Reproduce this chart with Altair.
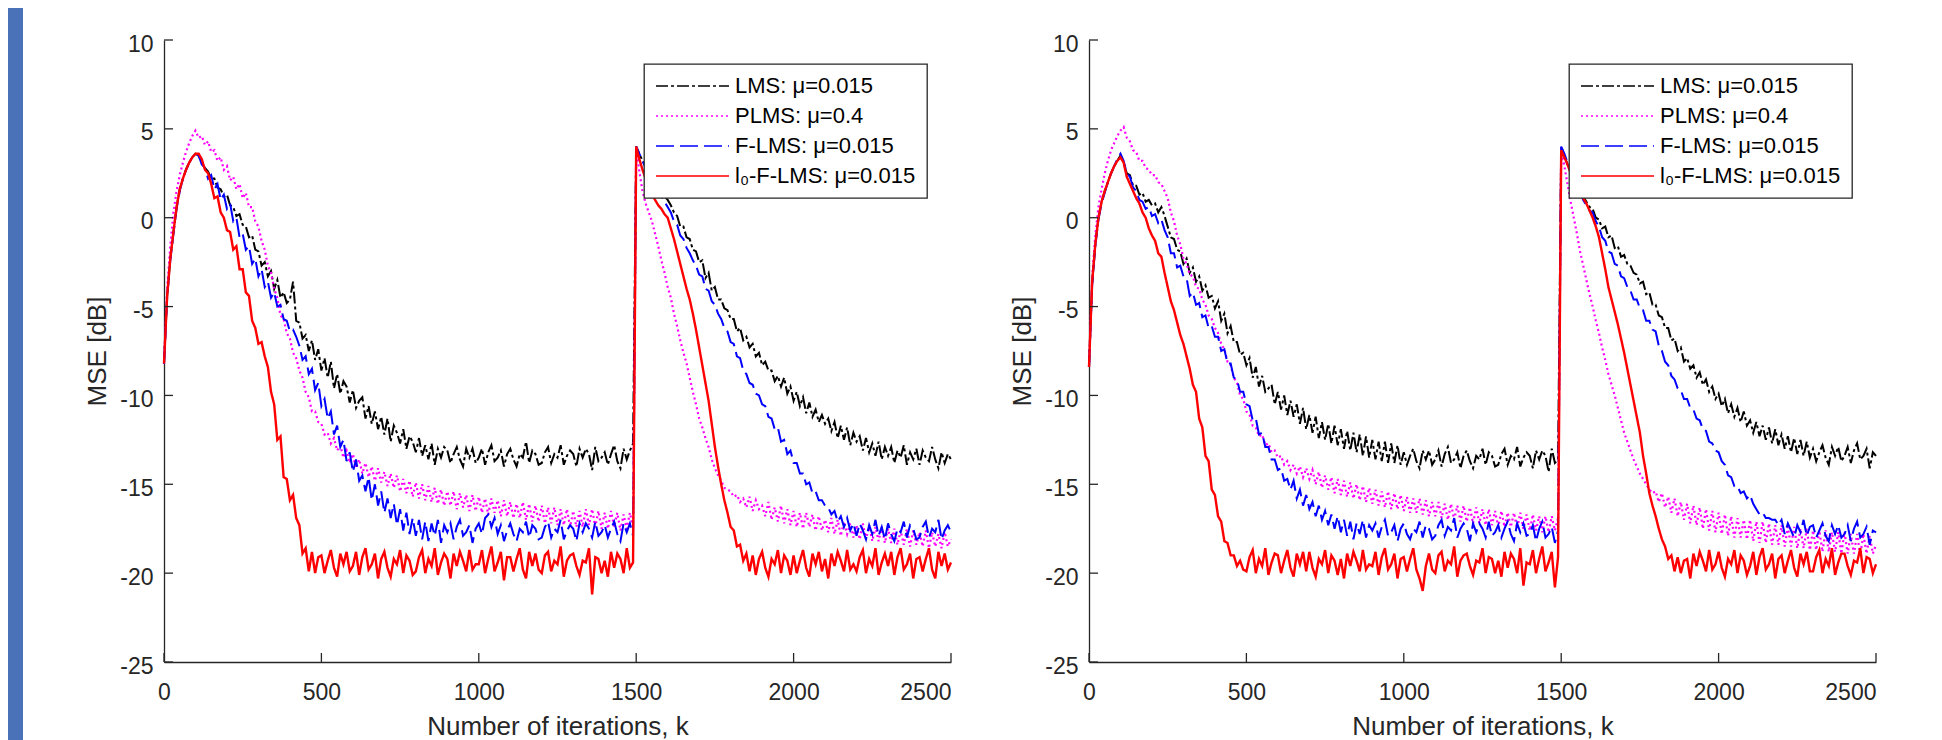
import altair as alt
import pandas as pd

# iteration index (every 10th iteration)
K = list(range(0, 2501, 10))

SERIES = ["LMS: μ=0.015", "PLMS: μ=0.4", "F-LMS: μ=0.015", "l₀-F-LMS: μ=0.015"]
COLORS = ["#000000", "#FF00FF", "#0000FF", "#FF0000"]
DASHES = [[12, 3, 3, 3], [2, 3], [18, 6], [1, 0]]
WIDTHS = [2.0, 2.2, 2.0, 2.4]

X_TICKS = [0, 500, 1000, 1500, 2000, 2500]
Y_TICKS = [-25, -20, -15, -10, -5, 0, 5, 10]

# ---------------- left panel ----------------
LEFT_LMS = [
    -8.2, -4.4, -2.3, -0.8, 0.6, 1.6, 2.2, 2.7, 3.1, 3.4,
    3.6, 3.5, 3.1, 2.8, 2.6, 2.2, 2.2, 1.7, 1.6, 1.2,
    1.3, 0.7, 0.6, 0.1, 0.2, -0.4, -0.5, -1.1, -1.0, -1.8,
    -1.9, -2.7, -2.5, -3.3, -3.0, -4.0, -3.5, -4.5, -4.2, -4.8,
    -4.6, -3.6, -5.8, -5.9, -6.8, -6.6, -7.5, -6.9, -8.0, -7.4,
    -8.6, -7.9, -9.0, -8.1, -9.6, -8.8, -9.9, -9.2, -9.5, -10.4,
    -9.7, -10.7, -10.3, -10.1, -11.3, -10.6, -11.6, -10.9, -11.9, -11.2,
    -12.2, -11.3, -12.6, -11.7, -12.1, -12.7, -11.9, -13.0, -12.3, -12.6,
    -13.2, -12.4, -13.4, -12.8, -13.6, -12.7, -13.9, -13.0, -13.5, -12.9,
    -13.1, -13.8, -13.3, -12.9, -13.6, -14.0, -13.0, -13.5, -13.0, -13.8,
    -13.5, -13.0, -13.9, -13.2, -12.8, -13.7, -13.5, -13.1, -14.0, -13.3,
    -13.0, -13.6, -14.0, -13.3, -13.5, -12.6, -13.8, -13.1, -13.3, -13.9,
    -13.8, -13.2, -12.9, -13.8, -13.3, -13.5, -12.8, -13.9, -13.4, -13.1,
    -13.3, -14.0, -13.0, -13.5, -13.0, -13.3, -14.2, -12.9, -13.7, -13.5,
    -13.2, -13.9, -13.3, -12.8, -13.7, -14.1, -13.0, -13.6, -13.1, -12.7,
    4.0, 3.6, 3.2, 2.9, 2.6, 2.3, 2.0, 1.7, 1.5, 1.2,
    1.0, 0.7, 0.3, 0.1, -0.5, -0.5, -1.1, -1.2, -1.8, -1.9,
    -2.5, -2.4, -3.4, -3.1, -4.1, -3.9, -4.6, -4.6, -5.1, -5.2,
    -5.7, -5.7, -6.4, -6.2, -6.9, -6.7, -7.3, -7.1, -7.8, -7.6,
    -8.3, -8.1, -8.6, -8.6, -9.2, -8.9, -9.5, -9.0, -9.9, -9.5,
    -10.3, -9.8, -10.6, -10.1, -11.0, -10.4, -11.2, -10.8, -11.5, -11.1,
    -11.6, -11.3, -12.0, -11.5, -12.4, -11.7, -12.5, -11.8, -12.8, -12.1,
    -12.6, -12.3, -13.1, -12.4, -13.2, -12.7, -13.4, -12.6, -13.6, -12.9,
    -13.4, -12.9, -13.8, -13.1, -13.5, -12.8, -13.9, -13.2, -13.6, -13.0,
    -13.9, -13.1, -13.5, -13.7, -12.9, -13.6, -14.1, -13.2, -13.8, -13.3,
    -13.6,
]

LEFT_PLMS = [
    -8.2, -4.0, -1.6, 0.3, 1.5, 2.4, 3.1, 3.7, 4.2, 4.6,
    4.9, 4.5, 4.6, 4.1, 4.3, 3.7, 3.8, 3.2, 3.4, 2.7,
    2.9, 2.1, 2.3, 1.6, 1.9, 1.1, 1.4, 0.6, 0.6, -0.2,
    -0.5, -1.3, -1.8, -2.7, -3.1, -4.0, -4.5, -5.5, -5.7, -6.5,
    -6.8, -7.6, -7.9, -8.6, -9.0, -9.8, -10.1, -10.9, -10.9, -11.5,
    -11.6, -12.2, -12.1, -12.7, -12.4, -13.1, -12.8, -13.5, -13.1, -13.8,
    -13.3, -14.1, -13.6, -14.4, -13.8, -14.6, -14.0, -14.8, -14.1, -14.9,
    -14.3, -15.1, -14.4, -15.2, -14.5, -15.4, -14.7, -15.5, -14.8, -15.7,
    -14.9, -15.8, -15.0, -15.9, -15.1, -16.0, -15.2, -16.1, -15.3, -16.2,
    -15.4, -16.2, -15.4, -16.4, -15.5, -16.3, -15.6, -16.5, -15.6, -16.5,
    -15.7, -16.6, -15.8, -16.7, -15.8, -16.6, -15.9, -16.8, -15.9, -16.8,
    -16.0, -16.9, -16.1, -16.9, -16.0, -17.0, -16.1, -17.1, -16.2, -17.1,
    -16.2, -17.2, -16.3, -17.2, -16.3, -17.3, -16.4, -17.3, -16.4, -17.4,
    -16.5, -17.4, -16.5, -17.4, -16.4, -17.3, -16.4, -17.4, -16.5, -17.5,
    -16.6, -17.5, -16.5, -17.4, -16.6, -17.6, -16.7, -17.5, -16.6, -17.4,
    4.0, 2.6, 1.5, 0.8, 0.3, -0.2, -0.9, -1.6, -2.4, -3.1,
    -3.9, -4.5, -5.4, -6.1, -6.9, -7.6, -8.2, -9.0, -9.8, -10.5,
    -11.3, -11.8, -12.4, -12.9, -13.6, -14.1, -14.5, -14.8, -15.2, -15.3,
    -15.4, -15.7, -15.6, -16.0, -15.8, -16.3, -15.7, -16.5, -15.9, -16.4,
    -16.2, -16.8, -16.0, -17.0, -16.3, -17.1, -16.2, -17.2, -16.4, -17.3,
    -16.5, -17.4, -16.6, -17.5, -16.6, -17.4, -16.7, -17.6, -16.8, -17.6,
    -17.0, -17.7, -16.9, -17.8, -17.0, -17.9, -17.1, -17.8, -17.2, -18.0,
    -17.3, -18.1, -17.2, -18.1, -17.3, -18.2, -17.4, -18.2, -17.4, -18.3,
    -17.5, -18.3, -17.5, -18.4, -17.6, -18.4, -17.5, -18.5, -17.6, -18.4,
    -17.7, -18.5, -17.6, -18.6, -17.7, -18.5, -17.8, -18.6, -17.7, -18.5,
    -18.1,
]

LEFT_FLMS = [
    -8.2, -4.5, -2.4, -0.9, 0.5, 1.5, 2.2, 2.7, 3.1, 3.4,
    3.6, 3.5, 3.0, 2.8, 2.2, 2.4, 1.6, 1.9, 1.0, 1.3,
    0.5, 0.8, -0.2, 0.0, -1.1, -0.9, -1.8, -1.6, -2.6, -2.3,
    -3.3, -2.9, -3.9, -3.6, -4.5, -4.2, -5.0, -4.9, -5.7, -5.8,
    -6.4, -6.3, -6.7, -7.2, -8.0, -7.8, -8.8, -8.5, -9.7, -9.3,
    -10.6, -10.2, -11.3, -10.9, -12.2, -11.7, -12.9, -12.5, -13.7, -13.2,
    -14.3, -13.6, -14.8, -14.5, -15.4, -14.6, -15.9, -15.0, -16.2, -15.4,
    -16.6, -15.8, -16.9, -16.1, -17.3, -16.4, -17.6, -16.6, -17.8, -16.9,
    -17.9, -17.0, -18.1, -17.1, -18.2, -17.2, -17.9, -17.0, -18.3, -17.3,
    -17.7, -17.2, -18.1, -17.4, -17.0, -17.9, -17.7, -17.3, -18.3, -17.5,
    -17.2, -17.8, -16.9, -16.7, -17.4, -16.9, -17.8, -17.3, -18.2, -17.6,
    -17.2, -17.8, -18.2, -17.5, -17.7, -17.1, -18.0, -17.3, -17.5, -18.1,
    -18.0, -17.4, -17.1, -18.0, -17.5, -17.7, -17.0, -18.1, -17.6, -17.3,
    -17.5, -18.2, -17.2, -17.7, -17.2, -17.5, -18.0, -17.1, -17.9, -17.7,
    -17.3, -18.0, -17.5, -17.1, -17.8, -18.2, -17.2, -17.7, -17.2, -17.9,
    4.0, 3.6, 3.2, 2.8, 2.5, 2.2, 1.9, 1.5, 1.2, 0.9,
    0.6, 0.3, -0.2, -0.4, -1.0, -1.2, -1.7, -2.0, -2.4, -2.7,
    -3.2, -3.3, -4.0, -4.1, -4.7, -4.9, -5.4, -5.7, -6.2, -6.4,
    -7.0, -7.1, -7.8, -7.9, -8.6, -8.8, -9.3, -9.4, -9.9, -10.0,
    -10.5, -10.6, -11.2, -11.3, -11.9, -11.8, -12.6, -12.5, -13.3, -13.1,
    -13.8, -13.8, -14.4, -14.4, -15.0, -14.9, -15.5, -15.4, -15.9, -15.9,
    -16.2, -16.3, -16.7, -16.5, -17.1, -16.8, -17.4, -16.9, -17.6, -17.2,
    -17.9, -17.2, -17.6, -18.1, -17.3, -17.8, -17.0, -17.9, -17.4, -18.1,
    -17.2, -17.8, -18.2, -17.5, -17.7, -17.1, -18.0, -17.3, -17.5, -18.1,
    -18.0, -17.4, -17.1, -18.0, -17.5, -17.7, -17.0, -18.1, -17.6, -17.3,
    -17.7,
]

LEFT_L0 = [
    -8.2, -4.4, -2.3, -0.8, 0.6, 1.6, 2.2, 2.7, 3.1, 3.4,
    3.6, 3.6, 3.3, 2.7, 2.5, 1.9, 1.1, 1.2, 0.3, 0.0,
    -0.7, -0.8, -1.8, -1.6, -2.9, -2.9, -4.2, -4.4, -5.8, -6.2,
    -7.1, -7.0, -7.8, -8.4, -9.8, -10.5, -12.5, -12.3, -14.6, -14.7,
    -15.9, -15.6, -16.9, -17.3, -18.9, -18.6, -19.9, -18.8, -20.0, -19.1,
    -19.0, -20.0, -19.3, -18.7, -19.7, -20.2, -18.9, -19.5, -18.8, -19.9,
    -19.6, -18.8, -20.1, -19.1, -18.6, -19.8, -19.5, -18.9, -20.3, -19.2,
    -18.8, -19.7, -20.2, -19.2, -19.5, -18.7, -20.0, -19.0, -19.3, -20.1,
    -19.9, -19.1, -18.7, -20.0, -19.2, -19.6, -18.6, -20.1, -19.4, -18.9,
    -19.2, -20.3, -18.9, -19.6, -18.8, -19.3, -19.9, -18.7, -19.8, -19.5,
    -19.5, -18.7, -20.0, -19.2, -18.5, -19.9, -19.4, -18.8, -20.4, -19.1,
    -19.1, -19.9, -19.2, -18.6, -19.8, -20.3, -18.8, -19.6, -18.9, -19.8,
    -20.0, -19.0, -18.8, -19.9, -19.3, -19.5, -18.5, -20.2, -19.3, -19.0,
    -18.9, -19.6, -20.1, -19.3, -19.4, -18.6, -21.2, -19.1, -19.2, -20.0,
    -19.3, -20.2, -18.8, -19.7, -18.9, -19.2, -20.0, -18.6, -19.7, -19.4,
    4.0, 3.3, 2.7, 2.2, 1.7, 1.3, 1.0, 0.7, 0.5, 0.2,
    0.0, -0.6, -1.2, -1.9, -2.6, -3.3, -4.0, -4.6, -5.4, -6.3,
    -7.3, -8.3, -9.3, -10.3, -11.6, -12.9, -14.0, -15.0, -15.9, -16.6,
    -17.4, -17.6, -18.5, -18.4, -19.3, -18.9, -19.9, -19.0, -20.1, -19.2,
    -18.8, -19.7, -20.2, -19.2, -19.5, -18.7, -20.0, -19.0, -19.3, -20.1,
    -19.0, -20.0, -19.3, -18.7, -19.7, -20.2, -18.9, -19.5, -18.8, -19.9,
    -19.2, -20.3, -18.9, -19.6, -18.8, -19.3, -19.9, -18.7, -19.8, -19.5,
    -19.9, -19.1, -18.7, -20.0, -19.2, -19.6, -18.6, -20.1, -19.4, -18.9,
    -19.6, -18.8, -20.1, -19.1, -18.6, -19.8, -19.5, -18.9, -20.3, -19.2,
    -19.1, -19.9, -19.2, -18.6, -19.8, -20.3, -18.8, -19.6, -18.9, -19.8,
    -19.4,
]

# ---------------- right panel ----------------
RIGHT_LMS = [
    -8.4, -3.7, -1.5, 0.0, 0.9, 1.5, 2.0, 2.5, 2.9, 3.2,
    3.5, 3.1, 2.5, 2.4, 1.8, 1.8, 1.3, 1.4, 0.9, 1.0,
    0.7, 0.8, 0.3, 0.6, 0.1, -0.5, -1.1, -1.2, -1.8, -1.9,
    -2.6, -2.3, -3.1, -2.8, -3.6, -3.3, -4.1, -3.8, -4.5, -4.4,
    -5.1, -4.7, -5.8, -5.4, -6.5, -6.1, -7.0, -7.0, -7.7, -7.6,
    -8.3, -7.9, -9.0, -8.4, -9.5, -8.9, -9.8, -9.6, -9.4, -10.5,
    -9.8, -10.8, -10.0, -11.1, -10.3, -11.2, -10.5, -11.6, -10.7, -11.9,
    -11.1, -12.1, -11.2, -12.4, -11.5, -12.5, -11.6, -12.7, -11.7, -12.8,
    -11.9, -13.0, -12.0, -13.1, -12.1, -13.2, -12.2, -13.4, -12.3, -13.5,
    -12.5, -13.6, -12.6, -13.7, -12.6, -13.8, -12.7, -13.8, -12.8, -13.9,
    -13.2, -13.9, -13.4, -13.0, -13.7, -14.1, -13.1, -13.6, -13.1, -13.9,
    -13.6, -13.1, -14.0, -13.3, -12.9, -13.8, -13.6, -13.2, -14.1, -13.4,
    -13.1, -13.7, -14.1, -13.4, -13.6, -13.0, -13.9, -13.2, -13.4, -14.0,
    -13.9, -13.3, -13.0, -13.9, -13.4, -13.6, -12.9, -14.0, -13.5, -13.2,
    -13.4, -14.1, -13.1, -13.6, -13.1, -13.4, -14.3, -13.0, -13.8, -13.6,
    4.0, 3.5, 3.0, 2.6, 2.2, 1.9, 1.5, 1.2, 0.9, 0.6,
    0.5, 0.0, -0.1, -0.6, -0.5, -1.1, -1.0, -1.7, -1.6, -2.2,
    -2.1, -2.6, -2.7, -3.1, -3.2, -3.7, -3.6, -4.3, -4.2, -4.9,
    -4.9, -5.5, -5.6, -6.2, -6.2, -6.9, -6.8, -7.5, -7.3, -8.1,
    -7.9, -8.5, -8.3, -9.0, -8.7, -9.4, -9.1, -9.8, -9.5, -10.2,
    -9.9, -10.6, -10.2, -11.0, -10.5, -11.2, -10.7, -11.5, -10.9, -11.7,
    -11.4, -12.1, -11.5, -12.3, -11.7, -12.5, -11.8, -12.7, -11.9, -12.8,
    -12.2, -13.0, -12.3, -13.2, -12.4, -13.3, -12.5, -13.4, -12.6, -13.5,
    -13.0, -13.7, -13.2, -12.8, -13.5, -13.9, -12.9, -13.4, -12.9, -13.7,
    -13.4, -12.9, -13.8, -13.1, -12.7, -13.6, -13.4, -13.0, -14.1, -13.2,
    -13.4,
]

RIGHT_PLMS = [
    -8.4, -3.4, -1.0, 0.6, 1.6, 2.5, 3.2, 3.8, 4.2, 4.6,
    4.9, 5.1, 4.5, 4.3, 3.8, 3.7, 3.2, 3.2, 2.8, 2.7,
    2.4, 2.4, 2.0, 1.9, 1.5, 1.1, 0.3, -0.2, -1.0, -1.5,
    -2.3, -2.6, -3.2, -3.3, -3.9, -4.0, -4.6, -4.9, -5.5, -5.7,
    -6.2, -6.5, -7.1, -7.4, -8.1, -8.3, -9.0, -9.3, -10.0, -10.2,
    -10.9, -11.1, -11.7, -11.8, -12.3, -12.2, -12.8, -12.7, -13.2, -13.1,
    -13.5, -13.4, -13.9, -13.7, -14.2, -13.9, -14.4, -14.0, -14.6, -14.1,
    -14.7, -14.2, -15.0, -14.3, -15.2, -14.5, -15.3, -14.6, -15.5, -14.7,
    -15.6, -14.8, -15.7, -14.9, -15.8, -15.0, -15.9, -15.1, -16.0, -15.2,
    -16.1, -15.3, -16.2, -15.4, -16.3, -15.4, -16.4, -15.5, -16.4, -15.6,
    -16.5, -15.7, -16.6, -15.8, -16.6, -15.8, -16.7, -15.9, -16.8, -16.0,
    -16.8, -16.0, -16.9, -16.1, -17.0, -16.1, -17.0, -16.2, -17.1, -16.2,
    -17.1, -16.3, -17.2, -16.3, -17.2, -16.4, -17.3, -16.4, -17.3, -16.5,
    -17.4, -16.5, -17.4, -16.6, -17.4, -16.6, -17.5, -16.6, -17.5, -16.7,
    -17.6, -16.7, -17.6, -16.8, -17.7, -16.8, -17.7, -16.8, -17.6, -16.9,
    4.0, 2.9, 1.9, 0.9, 0.0, -0.9, -1.9, -2.7, -3.5, -4.3,
    -5.0, -5.8, -6.5, -7.3, -8.0, -8.8, -9.4, -10.0, -10.7, -11.4,
    -12.1, -12.6, -13.1, -13.6, -14.0, -14.4, -14.7, -15.0, -15.3, -15.5,
    -15.4, -16.0, -15.5, -16.3, -15.7, -16.6, -15.8, -16.8, -16.0, -17.0,
    -16.1, -17.2, -16.2, -17.3, -16.3, -17.5, -16.4, -17.6, -16.5, -17.7,
    -16.6, -17.8, -16.7, -17.9, -16.8, -18.0, -16.9, -18.0, -17.0, -18.1,
    -17.0, -18.2, -17.1, -18.3, -17.1, -18.3, -17.2, -18.4, -17.3, -18.4,
    -17.3, -18.5, -17.4, -18.5, -17.4, -18.6, -17.5, -18.6, -17.5, -18.7,
    -17.6, -18.7, -17.6, -18.8, -17.6, -18.8, -17.7, -18.8, -17.7, -18.9,
    -17.7, -18.9, -17.8, -18.9, -17.8, -19.0, -17.8, -18.9, -17.9, -18.9,
    -18.4,
]

RIGHT_FLMS = [
    -8.4, -3.8, -1.6, -0.1, 0.8, 1.4, 2.0, 2.5, 2.9, 3.3,
    3.6, 3.2, 2.5, 2.3, 1.7, 1.5, 1.0, 0.9, 0.5, 0.6,
    0.1, 0.2, -0.3, -0.1, -0.7, -1.1, -2.0, -2.0, -2.8, -2.7,
    -3.3, -3.4, -4.4, -4.2, -4.9, -4.8, -5.6, -5.5, -6.2, -6.1,
    -6.7, -6.7, -7.5, -7.4, -8.2, -8.2, -9.0, -9.1, -9.8, -9.8,
    -10.5, -10.6, -11.4, -11.3, -12.2, -12.1, -12.9, -12.9, -13.6, -13.6,
    -14.2, -14.1, -14.8, -14.7, -15.3, -14.8, -15.8, -15.3, -16.2, -15.6,
    -16.4, -16.0, -16.8, -16.2, -17.0, -16.5, -17.3, -16.7, -17.5, -16.8,
    -17.7, -17.0, -17.9, -17.1, -18.1, -17.2, -17.8, -17.0, -18.0, -17.3,
    -17.6, -17.2, -18.0, -17.4, -17.0, -17.9, -17.7, -17.3, -18.2, -17.5,
    -17.2, -17.8, -18.1, -17.5, -17.7, -17.1, -18.0, -17.3, -17.5, -18.1,
    -17.9, -17.3, -17.0, -17.9, -17.4, -17.6, -16.9, -18.0, -17.5, -17.2,
    -17.5, -18.2, -17.2, -17.7, -17.2, -17.5, -18.0, -17.1, -17.9, -17.7,
    -17.3, -18.0, -17.5, -17.1, -17.8, -18.2, -17.2, -17.7, -17.2, -17.9,
    -17.8, -17.3, -18.2, -17.5, -17.1, -18.0, -17.8, -17.4, -18.3, -17.6,
    4.0, 3.6, 3.1, 2.6, 2.2, 1.8, 1.4, 1.0, 0.7, 0.4,
    0.3, -0.2, -0.5, -1.1, -1.3, -1.9, -2.0, -2.6, -2.7, -3.3,
    -3.4, -3.9, -4.1, -4.6, -4.6, -5.1, -5.2, -5.8, -5.8, -6.3,
    -6.4, -7.2, -7.5, -8.1, -8.3, -8.9, -9.1, -9.6, -9.7, -10.2,
    -10.2, -10.7, -10.8, -11.3, -11.4, -11.9, -12.0, -12.6, -12.7, -13.1,
    -13.2, -13.7, -13.9, -14.5, -14.6, -15.1, -15.1, -15.5, -15.4, -15.8,
    -15.6, -16.1, -16.4, -16.7, -16.6, -16.9, -16.9, -17.0, -17.0, -17.3,
    -17.0, -17.8, -17.2, -17.6, -18.0, -17.3, -17.7, -17.0, -17.9, -17.4,
    -17.3, -18.0, -17.6, -17.2, -17.9, -18.2, -17.3, -17.8, -17.3, -18.0,
    -17.8, -17.3, -18.2, -17.5, -17.1, -18.0, -17.8, -17.4, -18.4, -17.6,
    -17.7,
]

RIGHT_L0 = [
    -8.4, -3.6, -1.5, 0.0, 0.9, 1.5, 2.0, 2.5, 2.9, 3.2,
    3.4, 3.1, 2.3, 1.9, 1.5, 1.1, 0.8, 0.3, 0.0, -0.6,
    -1.0, -1.3, -2.0, -2.2, -3.1, -3.9, -4.7, -5.2, -5.9, -6.6,
    -7.1, -7.8, -8.5, -9.4, -9.8, -11.3, -11.8, -13.4, -13.7, -15.3,
    -15.6, -16.8, -17.1, -18.2, -18.3, -19.0, -19.0, -19.6, -19.3, -19.8,
    -19.9, -19.1, -18.7, -20.0, -19.2, -19.6, -18.6, -20.1, -19.4, -18.9,
    -19.0, -20.0, -19.3, -18.7, -19.7, -20.2, -18.9, -19.5, -18.8, -19.9,
    -18.8, -19.7, -20.2, -19.2, -19.5, -18.7, -20.0, -19.0, -19.3, -20.1,
    -19.2, -20.3, -18.9, -19.6, -18.8, -19.3, -19.9, -18.7, -19.8, -19.5,
    -19.6, -18.8, -20.1, -19.1, -18.6, -19.8, -19.5, -18.9, -20.3, -19.2,
    -19.1, -19.9, -19.2, -18.6, -19.8, -20.3, -21.0, -19.6, -18.9, -19.8,
    -20.0, -19.0, -18.8, -19.9, -19.3, -19.5, -18.5, -20.2, -19.3, -19.0,
    -18.9, -19.6, -20.1, -19.3, -19.4, -18.6, -20.0, -19.1, -19.2, -20.0,
    -19.3, -20.2, -18.8, -19.7, -18.9, -19.2, -20.0, -18.6, -20.7, -19.4,
    -19.5, -18.7, -20.0, -19.2, -18.5, -19.9, -19.4, -18.8, -20.8, -19.1,
    3.8, 3.4, 3.0, 2.5, 2.1, 1.8, 1.5, 1.1, 0.8, 0.4,
    0.0, -0.5, -1.1, -2.0, -2.9, -3.9, -4.6, -5.3, -6.0, -6.8,
    -7.6, -8.5, -9.4, -10.3, -11.2, -12.1, -13.4, -14.4, -15.5, -16.2,
    -16.8, -17.5, -18.1, -18.5, -19.2, -19.0, -19.9, -19.1, -20.0, -19.3,
    -19.2, -20.3, -18.9, -19.6, -18.8, -19.3, -19.9, -18.7, -19.8, -19.5,
    -18.8, -19.7, -20.2, -19.2, -19.5, -18.7, -20.0, -19.0, -19.3, -20.1,
    -19.6, -18.8, -20.1, -19.1, -18.6, -19.8, -19.5, -18.9, -20.3, -19.2,
    -19.0, -20.0, -19.3, -18.7, -19.7, -20.2, -18.9, -19.5, -18.8, -19.9,
    -19.9, -19.1, -18.7, -20.0, -19.2, -19.6, -18.6, -20.1, -19.4, -18.9,
    -18.9, -19.6, -20.1, -19.3, -19.4, -18.6, -20.0, -19.1, -19.2, -20.0,
    -19.5,
]

FONT = "Liberation Sans, Arial, sans-serif"
INK = "#262626"

xscale = alt.Scale(domain=[0, 2500], nice=False, zero=False)
yscale = alt.Scale(domain=[-25, 10], nice=False, zero=False)

xaxis = alt.Axis(
    values=X_TICKS, title="Number of iterations, k", labelExpr="datum.value + ''",
    labelFont=FONT, labelFontSize=23, labelColor=INK, labelPadding=19,
    labelFlush=False,
    labelAlign={"condition": {"test": "datum.value == 2500", "value": "right"}, "value": "center"},
    titleFont=FONT, titleFontSize=26, titleFontWeight="normal", titleColor=INK,
    titleBaseline="alphabetic", titleY=72,
    domainColor=INK, domainWidth=1.3, grid=False, ticks=False, tickSize=0,
)
yaxis = alt.Axis(
    values=Y_TICKS, title="MSE [dB]", labelExpr="datum.value + ''",
    labelFont=FONT, labelFontSize=23, labelColor=INK, labelPadding=11, labelOffset=4,
    titleFont=FONT, titleFontSize=26, titleFontWeight="normal", titleColor=INK,
    titleBaseline="alphabetic", titleX=-59, titleY=311,
    domainColor=INK, domainWidth=1.3, grid=False, ticks=False, tickSize=0,
)

legend = alt.Legend(
    title=None, orient="top-right", offset=24, fillColor="white",
    strokeColor=INK, padding=11, labelFont=FONT, labelFontSize=22,
    labelColor="black", symbolType="stroke", symbolSize=5329,
    symbolStrokeWidth=1.6, labelOffset=5, rowPadding=8, clipHeight=22,
    labelLimit=400,
)

color_scale = alt.Scale(domain=SERIES, range=COLORS)
dash_scale = alt.Scale(domain=SERIES, range=DASHES)


def panel(series_values, with_strip):
    layers = []
    for name, vals, w in zip(SERIES, series_values, WIDTHS):
        df = pd.DataFrame({"k": K, "mse": vals, "series": name})
        layers.append(
            alt.Chart(df).mark_line(strokeWidth=w).encode(
                x=alt.X("k:Q", scale=xscale, axis=xaxis),
                y=alt.Y("mse:Q", scale=yscale, axis=yaxis),
                color=alt.Color("series:N", scale=color_scale, legend=legend),
                strokeDash=alt.StrokeDash("series:N", scale=dash_scale, legend=legend),
            )
        )
    xt = alt.Chart(pd.DataFrame({"k": X_TICKS})).mark_rule(color=INK, strokeWidth=1.3).encode(
        x=alt.X("k:Q", scale=xscale, axis=xaxis), y=alt.value(622), y2=alt.value(613)
    )
    yt = alt.Chart(pd.DataFrame({"mse": Y_TICKS})).mark_rule(color=INK, strokeWidth=1.3).encode(
        y=alt.Y("mse:Q", scale=yscale, axis=yaxis), x=alt.value(0), x2=alt.value(9)
    )
    layers += [xt, yt]
    if with_strip:
        layers.append(
            alt.Chart(pd.DataFrame({"bar": [0]})).mark_rect(color="#4A72B8").encode(
                x=alt.value(-156), x2=alt.value(-141), y=alt.value(-32), y2=alt.value(700)
            )
        )
    return alt.layer(*layers).properties(width=787, height=622)


left = panel([LEFT_LMS, LEFT_PLMS, LEFT_FLMS, LEFT_L0], True)
right = panel([RIGHT_LMS, RIGHT_PLMS, RIGHT_FLMS, RIGHT_L0], False)

chart = (
    alt.hconcat(left, right, spacing=138, bounds="flush")
    .properties(padding=0)
    .resolve_legend(color="independent", strokeDash="independent")
    .configure_view(stroke=None)
    .configure_legend(strokeWidth=1.3)
)

chart.save("out.html", embed_options={"renderer": "svg", "actions": False})
